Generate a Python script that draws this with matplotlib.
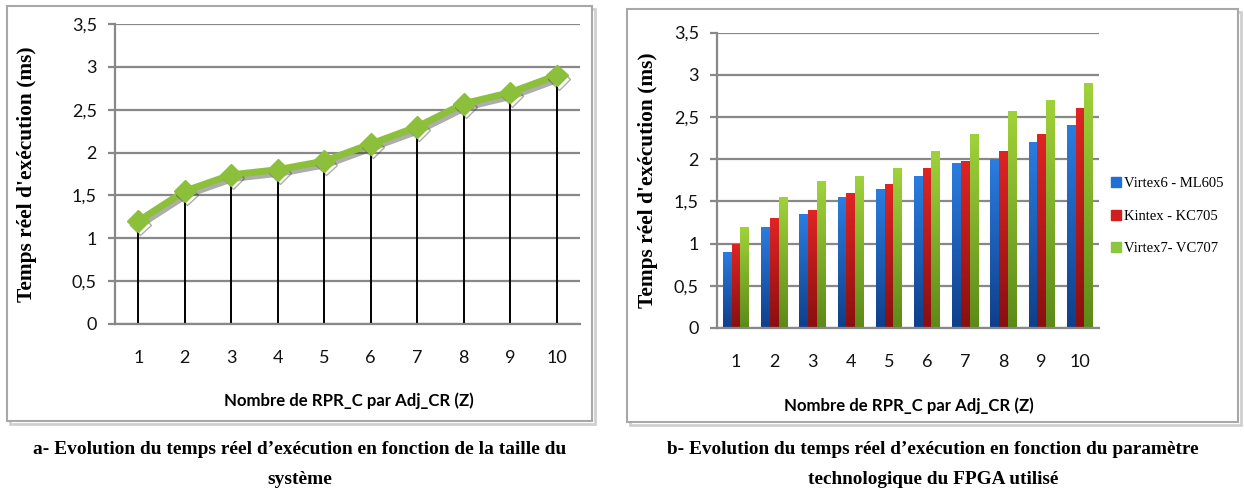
import numpy as np
import matplotlib.pyplot as plt
import matplotlib.patheffects as pe
from matplotlib.colors import LinearSegmentedColormap
from matplotlib.patches import Rectangle

# data
z = np.arange(1, 11)
virtex7 = [1.2, 1.55, 1.74, 1.8, 1.9, 2.1, 2.3, 2.57, 2.7, 2.9]
virtex6 = [0.9, 1.2, 1.35, 1.55, 1.65, 1.8, 1.95, 2.0, 2.2, 2.4]
kintex = [1.0, 1.3, 1.4, 1.6, 1.7, 1.9, 1.98, 2.1, 2.3, 2.6]
series_names = ['Virtex6 - ML605', 'Kintex - KC705', 'Virtex7- VC707']
yticks = [0, 0.5, 1, 1.5, 2, 2.5, 3, 3.5]
ytick_labels = ['0', '0,5', '1', '1,5', '2', '2,5', '3', '3,5']
ylabel = "Temps réel d'exécution (ms)"
xlabel = 'Nombre de RPR_C par Adj_CR (Z)'
cap_a = ["a- Evolution du temps réel d’exécution en fonction de la taille du", "système"]
cap_b = ["b- Evolution du temps réel d’exécution en fonction du paramètre",
         "technologique du FPGA utilisé"]

W, H = 1244, 488
fig = plt.figure(figsize=(W / 100, H / 100), dpi=100)
green = '#8cbf3a'
grid_c = '#888888'


def fx(px):
    return px / W


def fy(py):
    return 1 - py / H


def fit(t, width_px):
    r = fig.canvas.get_renderer()
    w = t.get_window_extent(r).width
    t.set_fontsize(t.get_fontsize() * width_px / w)


def style_axes(ax):
    ax.set_ylim(0, 3.5)
    ax.set_xlim(0.5, 10.5)
    ax.set_yticks(yticks, ytick_labels)
    ax.set_xticks(z, [str(i) for i in z])
    ax.grid(axis='y', color=grid_c, lw=1.6)
    ax.set_axisbelow(True)
    for s in ['top', 'right']:
        ax.spines[s].set_visible(False)
    for s in ['left', 'bottom']:
        ax.spines[s].set_color(grid_c)
        ax.spines[s].set_linewidth(1.6)
    ax.tick_params(axis='y', length=5, width=1.6, color=grid_c, pad=8)
    ax.tick_params(axis='x', length=0, pad=19)
    for lab in ax.get_xticklabels() + ax.get_yticklabels():
        lab.set_fontfamily('Lato')
        lab.set_fontsize(13)
        lab.set_color('#111111')


# panel frames (behind the axes)
for x0, y0, x1, y1 in [(7, 6, 592, 421), (627, 9, 1238, 422)]:
    fig.patches.append(Rectangle((fx(x0 + 3), fy(y1 + 3)), fx(x1 - x0), (y1 - y0) / H,
                                 transform=fig.transFigure, fc='none', ec='#d0d0d0', lw=2,
                                 zorder=-10))
    fig.patches.append(Rectangle((fx(x0), fy(y1)), fx(x1 - x0), (y1 - y0) / H,
                                 transform=fig.transFigure, fc='white', ec='#a8a8a8', lw=1.5,
                                 zorder=-9))

# ---- left: line chart
ax1 = fig.add_axes([fx(115), fy(324), fx(580 - 115), (324 - 24) / H])
ax1.patch.set_alpha(0)
style_axes(ax1)
ax1.vlines(z, 0, virtex7, color='black', lw=1.4, zorder=2)
ax1.plot(z, virtex7, color=green, lw=5, marker='D', ms=11, mec=green, mfc=green, zorder=3,
         path_effects=[pe.SimpleLineShadow(offset=(1.5, -2.5), shadow_color='#333333', alpha=0.4),
                       pe.Normal()])

# ---- right: grouped bars
ax2 = fig.add_axes([fx(717), fy(328), fx(1099 - 717), (328 - 32.5) / H])
ax2.patch.set_alpha(0)
style_axes(ax2)
bw = 0.227
cols = [('#0f3f8a', '#2a7de0'), ('#8a0f0f', '#e02424'), ('#5c8a18', '#9fd23a')]
solid = ['#1f6fd6', '#d11f1f', '#8dc63f']
for i, vals in enumerate([virtex6, kintex, virtex7]):
    bars = ax2.bar(z + (i - 1) * bw, vals, bw, color=solid[i], label=series_names[i], zorder=2)
    cmap = LinearSegmentedColormap.from_list('g%d' % i, cols[i])
    grad = np.linspace(0, 1, 100).reshape(-1, 1)
    for b in bars:
        x0, y0 = b.get_x(), b.get_y()
        im = ax2.imshow(grad, cmap=cmap, origin='lower', aspect='auto', zorder=2.5,
                        extent=[x0, x0 + b.get_width(), y0, y0 + b.get_height()])
        im.set_clip_path(b)
ax2.set_xlim(0.5, 10.5)
ax2.set_ylim(0, 3.5)

leg = fig.legend(handles=[plt.Line2D([], [], ls='none', marker='s', ms=6.5, color=c) for c in solid],
                 labels=series_names, loc='center left', bbox_to_anchor=(fx(1098), fy(216)),
                 frameon=False, handlelength=0.7, handletextpad=0.2, labelspacing=1.3,
                 prop={'family': 'Liberation Serif', 'size': 10.5})

# labels
for cx, cy in [(27, 174), (648, 180)]:
    t = fig.text(fx(cx), fy(cy), ylabel, rotation=90, ha='center', va='center',
                 family='Liberation Serif', weight='bold', fontsize=14)
    h = t.get_window_extent(fig.canvas.get_renderer()).height
    t.set_fontsize(t.get_fontsize() * 256 / h)

for cx, cy in [(349, 401), (909, 406)]:
    t = fig.text(fx(cx), fy(cy), xlabel, ha='center', va='center',
                 family='Lato', weight='bold', fontsize=12)
    fit(t, 248)

for cx, lines in [(300, cap_a), (933, cap_b)]:
    for k, (txt, cy) in enumerate(zip(lines, [450, 479])):
        t = fig.text(fx(cx), fy(cy), txt, ha='center', va='center',
                     family='Liberation Serif', weight='bold', fontsize=13)
        if k == 0:
            fit(t, 530)
            size = t.get_fontsize()
        else:
            t.set_fontsize(size)

fig.savefig('out.png', dpi=100)
